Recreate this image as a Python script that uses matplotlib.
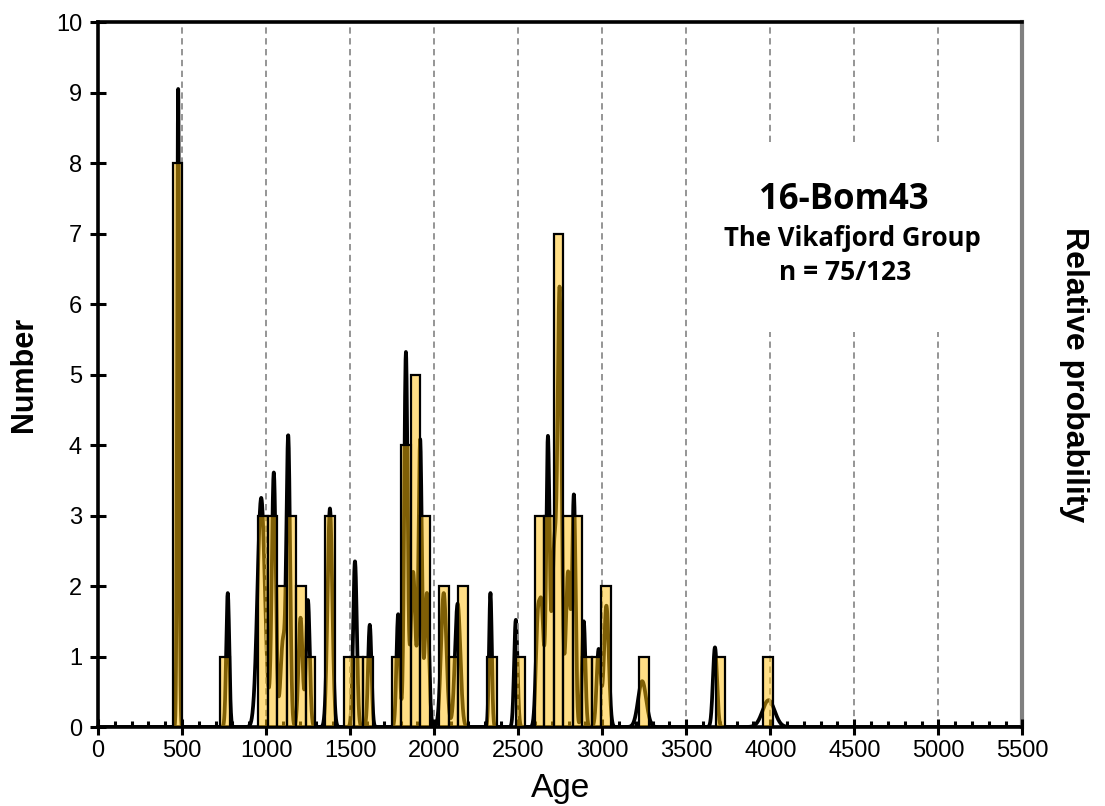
import numpy as np
import matplotlib
matplotlib.use("Agg")
import matplotlib.pyplot as plt
from matplotlib.ticker import MultipleLocator

# ---------------- data ----------------
# histogram: counts per bin (bins of equal width starting at bin_start)
bin_start = 443.3
bin_width = 56.7
bin_counts = [8, 0, 0, 0, 0, 1, 0, 0, 0, 3, 3, 2, 3, 2, 1, 0, 3, 0, 1, 1,
              1, 0, 0, 1, 4, 5, 3, 0, 2, 1, 2, 0, 0, 1, 0, 0, 1, 0, 3, 3,
              7, 3, 3, 1, 1, 2, 0, 0, 0, 1, 0, 0, 0, 0, 0, 0, 0, 1, 0, 0,
              0, 0, 1]

# probability density components (age, relative height, sigma)
peak_ages = [477, 772, 971, 1046, 1100, 1132, 1205, 1249, 1380, 1529, 1617,
             1786, 1832, 1875, 1917, 1957, 2057, 2140, 2335, 2486, 2617, 2641,
             2677, 2715, 2747, 2797, 2832, 2890, 2979, 3025, 3238, 3671, 3990]
peak_heights = [9.05, 1.9, 3.25, 3.6, 1.2, 4.05, 1.55, 1.8, 3.1, 2.35, 1.45,
                1.6, 5.3, 2.2, 4.05, 1.9, 1.9, 1.75, 1.9, 1.52, 1.45, 1.55,
                4.05, 2.5, 6.05, 2.2, 3.2, 1.5, 1.1, 1.72, 0.65, 1.13, 0.38]
peak_sigmas = [6, 9, 22, 12, 14, 11, 12, 11, 14, 11, 10,
               10, 10, 14, 10, 12, 16, 16, 8, 10, 12, 12,
               10, 14, 12, 14, 10, 10, 12, 14, 24, 12, 36]

x_ticks = list(range(0, 5501, 500))
y_ticks = list(range(0, 11))
title_lines = ["16-Bom43", "The Vikafjord Group", "n = 75/123"]

# ---------------- figure ----------------
plt.rcParams['font.family'] = ['Liberation Sans', 'DejaVu Sans']
fig = plt.figure(figsize=(11.05, 8.06), dpi=100)
ax = fig.add_axes([0.0887, 0.098, 0.8365, 0.8747])
ax2 = ax.twinx()

ax.set_xlim(0, 5500)
ax.set_ylim(0, 10)
ax2.set_ylim(0, 10)

# grid lines
for gx in x_ticks[1:-1]:
    ax.axvline(gx, color='#8c8c8c', lw=1.3, ls=(0, (3.5, 2.5)), zorder=0)

# white box behind text
ax.add_patch(plt.Rectangle((0.655, 0.560), 0.33, 0.270, transform=ax.transAxes,
                           facecolor='white', edgecolor='none', zorder=1))

# probability curve (on secondary axis, drawn beneath bars)
xs = np.arange(0, 5500.5, 1.0)
ys = np.zeros_like(xs)
for a, h, s in zip(peak_ages, peak_heights, peak_sigmas):
    ys += h * np.exp(-0.5 * ((xs - a) / s) ** 2)
ax2.plot(xs, ys, color='black', lw=2.7, zorder=2, solid_capstyle='butt')
ax2.set_yticks([])
ax2.set_zorder(1)
ax.set_zorder(2)
ax.patch.set_visible(False)
ax2.patch.set_visible(True)
ax2.patch.set_facecolor('white')

# histogram bars
lefts = [bin_start + i * bin_width for i in range(len(bin_counts))]
idx = [i for i, c in enumerate(bin_counts) if c > 0]
ax.bar([lefts[i] for i in idx], [bin_counts[i] for i in idx], width=bin_width,
       align='edge', facecolor=(1.0, 0.75, 0.05, 0.5), edgecolor='black',
       linewidth=1.6, zorder=3)

# ticks
ax.set_xticks(x_ticks)
ax.set_yticks(y_ticks)
ax.xaxis.set_minor_locator(MultipleLocator(100))
ax.tick_params(axis='both', which='major', direction='inout', length=11,
               width=2.2, labelsize=17, colors='black')
ax.tick_params(axis='x', which='minor', direction='in', length=4, width=2.2)
ax.tick_params(axis='x', which='major', pad=4)
ax.tick_params(axis='y', which='major', pad=6)

for side in ['left', 'top', 'bottom']:
    ax.spines[side].set_linewidth(2.6)
    ax.spines[side].set_color('black')
ax.spines['right'].set_visible(False)
for side in ['left', 'top', 'bottom']:
    ax2.spines[side].set_visible(False)
ax2.spines['right'].set_color('#808080')
ax2.spines['right'].set_linewidth(3)

ax.set_xlabel('Age', fontsize=24, labelpad=8)
ax.set_ylabel('Number', fontsize=22, fontweight='bold', labelpad=12)
ax2.set_ylabel('Relative probability', fontsize=23, fontweight='bold',
               rotation=-90, labelpad=48)

# annotation text
ax.text(0.807, 0.747, title_lines[0], transform=ax.transAxes, ha='center',
        va='center', fontsize=25, fontweight='bold', family=['Open Sans'], zorder=5)
ax.text(0.816, 0.693, title_lines[1], transform=ax.transAxes, ha='center',
        va='center', fontsize=18.5, fontweight='bold', family=['Open Sans'], zorder=5)
ax.text(0.808, 0.645, title_lines[2], transform=ax.transAxes, ha='center',
        va='center', fontsize=19, fontweight='bold', family=['Open Sans'], zorder=5)

fig.savefig('out.png', dpi=100)
